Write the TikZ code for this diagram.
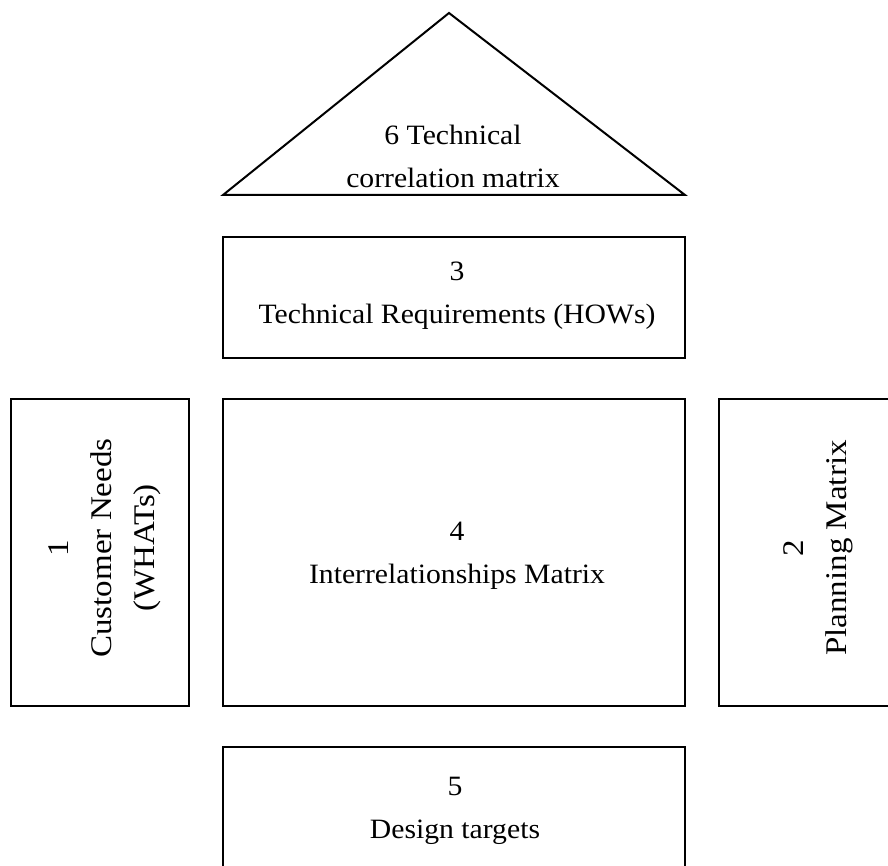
\documentclass[tikz,border=0pt]{standalone}
\usepackage{fontspec}
\setmainfont{Liberation Serif}
\newfontfamily\widefont[FakeStretch=1.06]{Liberation Serif}
\newfontfamily\rotfont[FakeStretch=1.1]{Liberation Serif}
\begin{document}
\begin{tikzpicture}[x=1pt,y=-1pt,
  box/.style={draw=black,line width=2pt},
  lbl/.style={align=center,font=\widefont\fontsize{28}{43}\selectfont,inner sep=0pt},
  rlbl/.style={align=center,font=\rotfont\fontsize{30}{43}\selectfont,inner sep=0pt,rotate=90}]
\useasboundingbox (0,0) rectangle (888,866);
\coordinate (apex) at (449,13);
\coordinate (bl) at (223,195);
\coordinate (br) at (685,195);
\draw[box,line join=miter] (bl) -- (apex) -- (br) -- cycle;
\node[lbl] (t6) at (453,156) {6 Technical\\correlation matrix};
\draw[box] (223,237) rectangle (685,358);
\node[lbl] (t3) at (457,296) {3\\Technical Requirements (HOWs)};
\draw[box] (11,399) rectangle (189,706);
\node[rlbl] (t1) at (105,548) {1\\Customer Needs\\(WHATs)};
\draw[box] (223,399) rectangle (685,706);
\node[lbl] (t4) at (457,556) {4\\Interrelationships Matrix};
\draw[box] (719,399) rectangle (900,706);
\node[rlbl] (t2) at (818,548) {2\\Planning Matrix};
\draw[box] (223,747) rectangle (685,880);
\node[lbl] (t5) at (455,811) {5\\Design targets};
\end{tikzpicture}
\end{document}
